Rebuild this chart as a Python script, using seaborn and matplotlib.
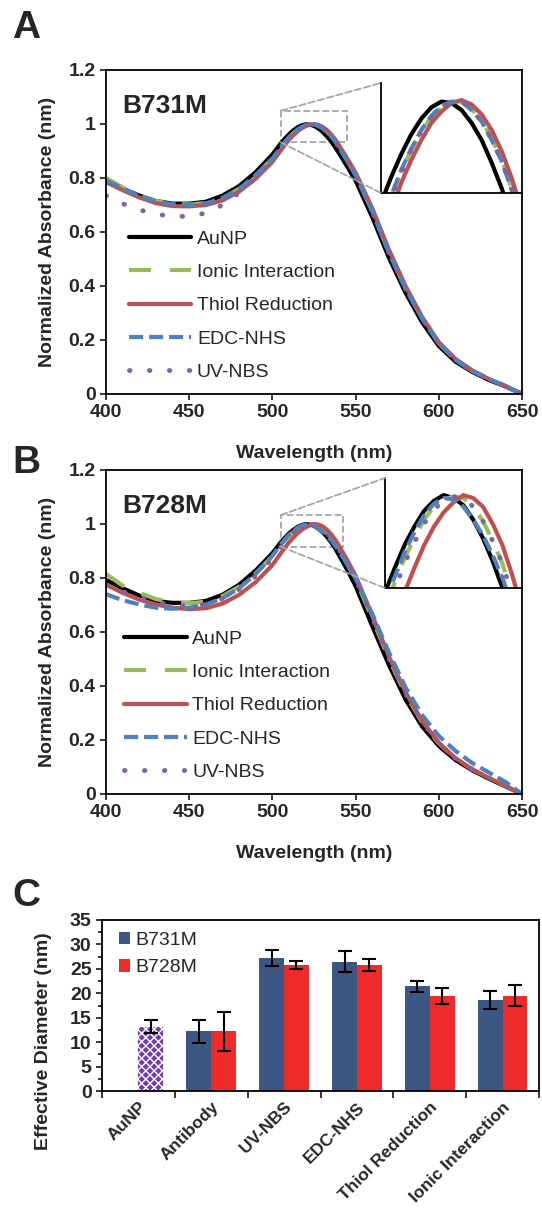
import numpy as np
import pandas as pd
import matplotlib
matplotlib.use('Agg')
import matplotlib.pyplot as plt
import seaborn as sns
from matplotlib.patches import ConnectionPatch, Rectangle

# Spectra (normalized absorbance)
wavelength = [400, 410, 420, 430, 440, 450, 460, 470, 480, 490, 500,
              505, 507.5, 510, 512.5, 515, 517.5, 520, 522.5, 525, 527.5, 530, 532.5, 535, 537.5, 540,
              545, 550, 560, 570, 580, 590, 600, 610, 620, 630, 640, 650]

a_aunp = [0.790, 0.760, 0.735, 0.715, 0.705, 0.705, 0.712, 0.735, 0.770, 0.822, 0.887,
          0.928, 0.946, 0.962, 0.976, 0.987, 0.995, 0.999, 0.998, 0.993, 0.984, 0.972, 0.956, 0.938, 0.916, 0.892,
          0.842, 0.790, 0.655, 0.505, 0.375, 0.265, 0.178, 0.120, 0.082, 0.052, 0.028, 0.0]
a_ionic = [0.800, 0.765, 0.735, 0.715, 0.705, 0.702, 0.707, 0.725, 0.760, 0.810, 0.872,
           0.913, 0.932, 0.950, 0.965, 0.978, 0.988, 0.995, 0.999, 0.999, 0.994, 0.986, 0.973, 0.958, 0.938, 0.915,
           0.865, 0.812, 0.678, 0.525, 0.392, 0.280, 0.188, 0.126, 0.086, 0.055, 0.030, 0.0]
a_thiol = [0.785, 0.755, 0.728, 0.707, 0.696, 0.695, 0.700, 0.717, 0.750, 0.798, 0.860,
           0.902, 0.922, 0.942, 0.958, 0.972, 0.984, 0.992, 0.998, 1.000, 0.997, 0.990, 0.979, 0.964, 0.945, 0.922,
           0.872, 0.820, 0.688, 0.535, 0.400, 0.285, 0.192, 0.130, 0.088, 0.056, 0.030, 0.0]
a_edc = [0.790, 0.762, 0.733, 0.713, 0.703, 0.700, 0.706, 0.725, 0.760, 0.810, 0.872,
         0.914, 0.933, 0.951, 0.966, 0.979, 0.989, 0.996, 0.999, 0.999, 0.993, 0.985, 0.972, 0.957, 0.937, 0.913,
         0.863, 0.810, 0.676, 0.523, 0.390, 0.279, 0.187, 0.126, 0.086, 0.055, 0.030, 0.0]
a_uvnbs = [0.735, 0.705, 0.682, 0.666, 0.658, 0.658, 0.670, 0.700, 0.745, 0.800, 0.868,
           0.911, 0.931, 0.949, 0.965, 0.978, 0.988, 0.995, 0.999, 0.999, 0.994, 0.985, 0.972, 0.957, 0.937, 0.914,
           0.864, 0.811, 0.677, 0.524, 0.391, 0.280, 0.188, 0.126, 0.086, 0.055, 0.030, 0.0]

b_aunp = [0.793, 0.762, 0.735, 0.715, 0.708, 0.708, 0.715, 0.738, 0.775, 0.828, 0.892,
          0.932, 0.949, 0.965, 0.978, 0.989, 0.996, 1.000, 0.998, 0.993, 0.983, 0.970, 0.954, 0.935, 0.912, 0.885,
          0.830, 0.770, 0.622, 0.478, 0.350, 0.250, 0.178, 0.126, 0.088, 0.057, 0.028, 0.0]
b_ionic = [0.815, 0.772, 0.745, 0.722, 0.710, 0.707, 0.712, 0.733, 0.768, 0.818, 0.880,
           0.921, 0.939, 0.956, 0.970, 0.983, 0.992, 0.997, 0.999, 0.998, 0.992, 0.982, 0.968, 0.952, 0.930, 0.905,
           0.852, 0.795, 0.650, 0.500, 0.370, 0.265, 0.187, 0.132, 0.092, 0.060, 0.030, 0.0]
b_thiol = [0.775, 0.745, 0.720, 0.702, 0.690, 0.685, 0.688, 0.705, 0.738, 0.785, 0.848,
           0.891, 0.912, 0.932, 0.949, 0.965, 0.978, 0.988, 0.995, 1.000, 0.998, 0.992, 0.980, 0.965, 0.944, 0.920,
           0.866, 0.808, 0.662, 0.510, 0.378, 0.270, 0.190, 0.133, 0.092, 0.060, 0.030, 0.0]
b_edc = [0.740, 0.718, 0.702, 0.690, 0.686, 0.690, 0.702, 0.725, 0.762, 0.815, 0.882,
         0.925, 0.943, 0.960, 0.974, 0.986, 0.994, 0.998, 0.997, 0.992, 0.983, 0.972, 0.958, 0.942, 0.922, 0.900,
         0.850, 0.798, 0.668, 0.525, 0.395, 0.292, 0.215, 0.160, 0.115, 0.080, 0.045, 0.0]
b_uvnbs = [0.775, 0.750, 0.728, 0.710, 0.700, 0.697, 0.703, 0.723, 0.758, 0.808, 0.872,
           0.915, 0.934, 0.952, 0.967, 0.980, 0.990, 0.996, 0.999, 0.998, 0.992, 0.982, 0.968, 0.952, 0.930, 0.906,
           0.853, 0.796, 0.652, 0.502, 0.372, 0.267, 0.188, 0.132, 0.092, 0.060, 0.030, 0.0]

series_names = ['AuNP', 'Ionic Interaction', 'Thiol Reduction', 'EDC-NHS', 'UV-NBS']
series_colors = ['black', '#9BBB59', '#C0504D', '#4F81BD', '#8064A2']
series_styles = ['-', (0, (5.3, 4.5)), '-', (0, (3.4, 1.4)), (0, (0.1, 4.0))]
series_widths = [3, 3, 3, 3, 3.5]

# Effective diameter (DLS)
categories = ['AuNP', 'Antibody', 'UV-NBS', 'EDC-NHS', 'Thiol Reduction', 'Ionic Interaction']
b731m_diam = [12.2, 27.2, 26.5, 21.4, 18.6]
b731m_err = [2.4, 1.7, 2.1, 1.2, 1.9]
b728m_diam = [12.2, 25.8, 25.8, 19.5, 19.5]
b728m_err = [4.0, 0.9, 1.3, 1.6, 2.1]
aunp_diam = 13.2
aunp_err = 1.3

sns.set_theme(style='ticks')
plt.rcParams['font.family'] = ['Liberation Sans', 'DejaVu Sans']
plt.rcParams['axes.linewidth'] = 1.3
plt.rcParams['xtick.major.width'] = 1.3
plt.rcParams['ytick.major.width'] = 1.3
plt.rcParams['xtick.major.size'] = 4
plt.rcParams['ytick.major.size'] = 4
plt.rcParams['axes.edgecolor'] = 'black'

W, H = 542, 1211
fig = plt.figure(figsize=(W / 100, H / 100), dpi=100)


def px_axes(x0, y0, x1, y1):
    return fig.add_axes([x0 / W, 1 - y1 / H, (x1 - x0) / W, (y1 - y0) / H])


def spectra_panel(ax, ax_in, curves, title, rect, letter, letter_y, leg_x):
    for name, vals, c, ls, lw in zip(series_names, curves, series_colors, series_styles, series_widths):
        cap = 'round' if name == 'UV-NBS' else 'butt'
        sns.lineplot(x=wavelength, y=vals, ax=ax, color=c, lw=lw, linestyle=ls,
                     label=name, dash_capstyle=cap)
        ax_in.plot(wavelength, vals, color=c, lw=lw, linestyle=ls, dash_capstyle=cap)
    ax.set_xlim(400, 650)
    ax.set_ylim(0, 1.2)
    ax.set_xticks([400, 450, 500, 550, 600, 650])
    ax.set_yticks([0, 0.2, 0.4, 0.6, 0.8, 1.0, 1.2])
    ax.set_yticklabels(['0', '0.2', '0.4', '0.6', '0.8', '1', '1.2'])
    for t in ax.get_xticklabels() + ax.get_yticklabels():
        t.set_fontweight('bold')
        t.set_fontsize(14)
    ax.set_xlabel('Wavelength (nm)', fontsize=14, fontweight='bold', labelpad=17)
    ax.set_ylabel('Normalized Absorbance (nm)', fontsize=14, fontweight='bold', labelpad=9)
    ax.text(0.04, 0.89, title, transform=ax.transAxes, fontsize=19, fontweight='bold', va='center')
    ax.legend(loc='lower left', bbox_to_anchor=(leg_x, -0.013), frameon=False, fontsize=14,
              handlelength=3.2, handletextpad=0.3, labelspacing=0.8)
    # zoom box and guide lines
    x0, x1, y0, y1 = rect
    ax.add_patch(Rectangle((x0, y0), x1 - x0, y1 - y0, fill=False, ls='--', ec='#A6A6A6', lw=1.3))
    for ya, yb in [(y1, 1), (y0, 0)]:
        con = ConnectionPatch(xyA=(x0, ya), coordsA=ax.transData, xyB=(0, yb), coordsB=ax_in.transAxes,
                              ls='--', color='#A6A6A6', lw=1.3)
        fig.add_artist(con)
    ax_in.set_xlim(505, 540)
    ax_in.set_ylim(0.935, 1.012)
    ax_in.set_xticks([])
    ax_in.set_yticks([])
    ax_in.patch.set_alpha(0)
    ax_in.spines['top'].set_visible(False)
    ax_in.spines['right'].set_visible(False)
    fig.text(12 / W, 1 - letter_y / H, letter, fontsize=28, fontweight='bold', va='center', ha='left')


ax_a = px_axes(106, 70, 522, 394)
ax_ai = px_axes(381, 83, 522, 193)
spectra_panel(ax_a, ax_ai, [a_aunp, a_ionic, a_thiol, a_edc, a_uvnbs], 'B731M',
              (505, 545, 0.932, 1.049), 'A', 28, 0.013)

ax_b = px_axes(106, 470, 522, 794)
ax_bi = px_axes(385, 478, 522, 588)
spectra_panel(ax_b, ax_bi, [b_aunp, b_ionic, b_thiol, b_edc, b_uvnbs], 'B728M',
              (505, 542.5, 0.916, 1.033), 'B', 463, 0.002)

# Panel C: bar chart
ax_c = px_axes(102, 920, 539, 1091)
df = pd.DataFrame({
    'category': categories[1:] * 2,
    'series': ['B731M'] * 5 + ['B728M'] * 5,
    'diameter': b731m_diam + b728m_diam,
})
sns.barplot(data=df, x='category', y='diameter', hue='series', order=categories,
            hue_order=['B731M', 'B728M'], palette=['#3C5781', '#EE2A2A'], width=0.68,
            errorbar=None, ax=ax_c, edgecolor='none', saturation=1)
pos = np.arange(1, 6)
ax_c.errorbar(pos - 0.17, b731m_diam, yerr=b731m_err, fmt='none', ecolor='black',
              elinewidth=1.5, capsize=5, capthick=1.5)
ax_c.errorbar(pos + 0.17, b728m_diam, yerr=b728m_err, fmt='none', ecolor='black',
              elinewidth=1.5, capsize=5, capthick=1.5)
ax_c.bar([0.17], [aunp_diam], width=0.34, color='#7639B5', hatch='xxxx', edgecolor='white', lw=0)
ax_c.errorbar([0.17], [aunp_diam], yerr=[aunp_err], fmt='none', ecolor='black',
              elinewidth=1.5, capsize=5, capthick=1.5)

ax_c.set_xlim(-0.5, 5.5)
ax_c.set_ylim(0, 35)
ax_c.set_yticks(range(0, 36, 5))
ax_c.set_yticks(np.arange(0, 35, 2.5), minor=True)
ax_c.set_xticks(range(6))
ax_c.set_xticks(np.arange(-0.5, 6, 1), minor=True)
ax_c.set_xticklabels(categories, rotation=45, ha='right', rotation_mode='anchor',
                     fontsize=12.5, fontweight='bold')
ax_c.tick_params(axis='x', which='major', length=0, pad=6)
ax_c.tick_params(axis='x', which='minor', length=5, width=1.3)
ax_c.tick_params(axis='y', which='minor', length=3, width=1.3, left=True)
for t in ax_c.get_yticklabels():
    t.set_fontweight('bold')
    t.set_fontsize(14)
ax_c.set_xlabel('')
ax_c.set_ylabel('Effective Diameter (nm)', fontsize=14, fontweight='bold')
ax_c.yaxis.set_label_coords(-0.114, 0.29)
ax_c.legend(title=None, loc='upper left', bbox_to_anchor=(0.02, 0.977), borderaxespad=0, frameon=False,
            fontsize=14, handlelength=0.6, handleheight=0.6, handletextpad=0.25, labelspacing=0.55)
fig.text(12 / W, 1 - 896 / H, 'C', fontsize=28, fontweight='bold', va='center', ha='left')

fig.savefig('out.png', dpi=100)
